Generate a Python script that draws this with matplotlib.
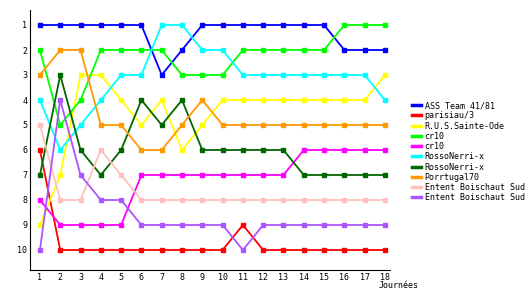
import matplotlib
matplotlib.use("Agg")
import matplotlib.pyplot as plt

journees = list(range(1, 19))

equipes = ["ASS Team 41/81", "parisiau/3", "R.U.S.Sainte-Ode", "cr10", "cr10",
           "RossoNerri-x", "RossoNerri-x", "Porrtugal70",
           "Entent Boischaut Sud", "Entent Boischaut Sud"]

ass_team = [1, 1, 1, 1, 1, 1, 3, 2, 1, 1, 1, 1, 1, 1, 1, 2, 2, 2]
parisiau = [6, 10, 10, 10, 10, 10, 10, 10, 10, 10, 9, 10, 10, 10, 10, 10, 10, 10]
rus_sainte_ode = [9, 7, 3, 3, 4, 5, 4, 6, 5, 4, 4, 4, 4, 4, 4, 4, 4, 3]
cr10_a = [2, 5, 4, 2, 2, 2, 2, 3, 3, 3, 2, 2, 2, 2, 2, 1, 1, 1]
cr10_b = [8, 9, 9, 9, 9, 7, 7, 7, 7, 7, 7, 7, 7, 6, 6, 6, 6, 6]
rosso_a = [4, 6, 5, 4, 3, 3, 1, 1, 2, 2, 3, 3, 3, 3, 3, 3, 3, 4]
rosso_b = [7, 3, 6, 7, 6, 4, 5, 4, 6, 6, 6, 6, 6, 7, 7, 7, 7, 7]
porrtugal = [3, 2, 2, 5, 5, 6, 6, 5, 4, 5, 5, 5, 5, 5, 5, 5, 5, 5]
entent_a = [5, 8, 8, 6, 7, 8, 8, 8, 8, 8, 8, 8, 8, 8, 8, 8, 8, 8]
entent_b = [10, 4, 7, 8, 8, 9, 9, 9, 9, 9, 10, 9, 9, 9, 9, 9, 9, 9]

series = [ass_team, parisiau, rus_sainte_ode, cr10_a, cr10_b,
          rosso_a, rosso_b, porrtugal, entent_a, entent_b]
couleurs = ["#0000ff", "#ff0000", "#ffff00", "#00ff00", "#ff00ff",
            "#00ffff", "#006600", "#ff9900", "#ffc0c0", "#aa55ff"]

plt.rcParams["font.family"] = "DejaVu Sans Mono"

fig = plt.figure(figsize=(5.3, 3.0), dpi=100)
ax = fig.add_axes([30 / 530, 30 / 300, 360 / 530, 260 / 300])

for vals, nom, coul in zip(series, equipes, couleurs):
    ax.plot(journees, vals, color=coul, linewidth=1.3, marker="s",
            markersize=2.5, label=nom)

ax.set_xlim(0.51, 18.25)
ax.set_ylim(10.8, 0.4)
ax.set_xticks(journees)
ax.set_yticks(range(1, 11))
ax.tick_params(length=0, labelsize=6, pad=2)
ax.spines["top"].set_visible(False)
ax.spines["right"].set_visible(False)

fig.text(379 / 530, 1 - 286 / 300, "Journées", fontsize=6, va="center")

leg = fig.legend(loc="upper left", bbox_to_anchor=(408 / 530, 1 - 97 / 300),
                 frameon=False, fontsize=6, handlelength=1.0, handletextpad=0.5,
                 labelspacing=0.15, borderpad=0, markerscale=0)
for h in leg.legend_handles:
    h.set_linewidth(2.5)

fig.savefig("out.png", dpi=100)
